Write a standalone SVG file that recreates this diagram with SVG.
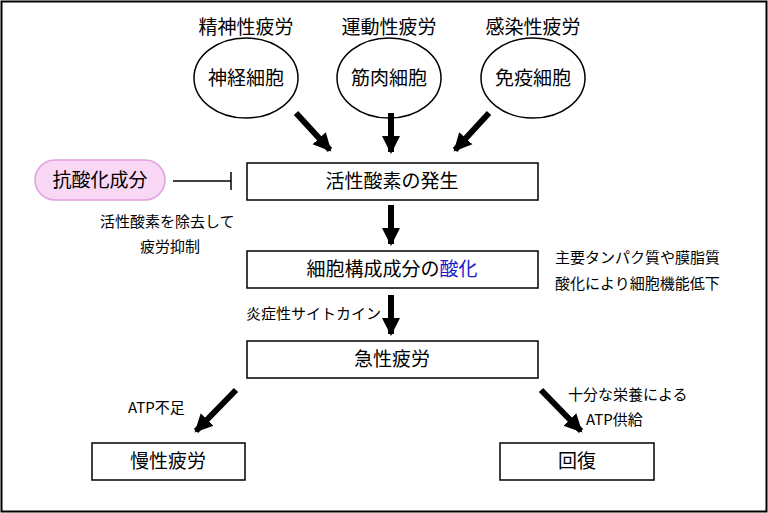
<svg xmlns="http://www.w3.org/2000/svg" width="768" height="513" viewBox="0 0 768 513">
<style>
text{font-family:"Noto Sans CJK JP","Liberation Sans",sans-serif;fill:#000}
.t{font-size:19px;text-anchor:middle}
.s{font-size:15px}
.b{fill:#fff;stroke:#000;stroke-width:1.5}
.a{stroke:#000;stroke-width:6;fill:none;marker-end:url(#h)}
</style>
<defs><marker id="h" markerUnits="userSpaceOnUse" markerWidth="20" markerHeight="20" refX="16" refY="10" orient="auto"><path d="M0,1 L18,10 L0,19 Z" fill="#000"/></marker></defs>
<rect x="1.5" y="1.5" width="765" height="510" fill="#fff" stroke="#000" stroke-width="2"/>
<g id="n1"><text class="t" x="246" y="34">精神性疲労</text><ellipse class="b" cx="246" cy="78" rx="52" ry="40"/><text class="t" x="246" y="85">神経細胞</text></g>
<g id="n2"><text class="t" x="389" y="34">運動性疲労</text><ellipse class="b" cx="389" cy="78" rx="52" ry="40"/><text class="t" x="389" y="85">筋肉細胞</text></g>
<g id="n3"><text class="t" x="533" y="34">感染性疲労</text><ellipse class="b" cx="533" cy="78" rx="52" ry="40"/><text class="t" x="533" y="85">免疫細胞</text></g>
<g id="anti"><rect x="35" y="160" width="130" height="40" rx="20" fill="#f9d8f5" stroke="#e0a0dc" stroke-width="1.5"/><text class="t" x="100" y="187">抗酸化成分</text></g>
<g id="ros"><rect class="b" x="247" y="163" width="291" height="37"/><text class="t" x="392" y="188">活性酸素の発生</text></g>
<g id="ox"><rect class="b" x="247" y="251" width="291" height="37"/><text class="t" x="392" y="276">細胞構成成分の<tspan fill="#1a1ad0">酸化</tspan></text></g>
<g id="acute"><rect class="b" x="247" y="341" width="291" height="37"/><text class="t" x="392" y="366">急性疲労</text></g>
<g id="chronic"><rect class="b" x="92" y="443" width="153" height="37"/><text class="t" x="168" y="468">慢性疲労</text></g>
<g id="recover"><rect class="b" x="500" y="443" width="154" height="37"/><text class="t" x="577" y="468">回復</text></g>
<g id="labels" class="s">
<text x="100" y="227">活性酸素を除去して</text>
<text x="140" y="252">疲労抑制</text>
<text x="555" y="263">主要タンパク質や膜脂質</text>
<text x="555" y="289">酸化により細胞機能低下</text>
<text x="246" y="319">炎症性サイトカイン</text>
<text x="128" y="413">ATP不足</text>
<text x="568" y="400">十分な栄養による</text>
<text x="586" y="425">ATP供給</text>
</g>
<g id="connectors">
<line class="a" x1="296" y1="113" x2="330" y2="150"/>
<line class="a" x1="391" y1="113" x2="391" y2="152"/>
<line class="a" x1="489" y1="113" x2="455" y2="150"/>
<line class="a" x1="391" y1="205" x2="391" y2="244"/>
<line class="a" x1="391" y1="295" x2="391" y2="334"/>
<line class="a" x1="236" y1="390" x2="196" y2="431"/>
<line class="a" x1="541" y1="390" x2="581" y2="431"/>
<line x1="173" y1="181" x2="231" y2="181" stroke="#000" stroke-width="1.5"/>
<line x1="231" y1="172" x2="231" y2="190" stroke="#000" stroke-width="1.5"/>
</g>
</svg>
